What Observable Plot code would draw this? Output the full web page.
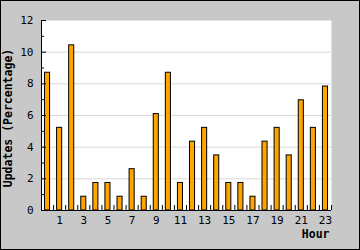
<!DOCTYPE html>
<html>
<head>
<meta charset="utf-8">
<script src="https://cdn.jsdelivr.net/npm/d3@7"></script>
<script src="https://cdn.jsdelivr.net/npm/@observablehq/plot@0.6"></script>
<style>
  html, body { margin: 0; padding: 0; background: #c8c8c8; }
  #chart svg { display: block; outline: 1px solid #000; outline-offset: -1px; }
</style>
</head>
<body>
<div id="chart"></div>
<script>
const hours = [0, 1, 2, 3, 4, 5, 6, 7, 8, 9, 10, 11, 12, 13, 14, 15, 16, 17, 18, 19, 20, 21, 22, 23];
const updates = [8.70, 5.22, 10.43, 0.87, 1.74, 1.74, 0.87, 2.61, 0.87, 6.09, 8.70, 1.74,
                 4.35, 5.22, 3.48, 1.74, 1.74, 0.87, 4.35, 5.22, 3.48, 6.96, 5.22, 7.83];
const xTickLabels = [1, 3, 5, 7, 9, 11, 13, 15, 17, 19, 21, 23];
const xBoundaries = [0.5, 1.5, 2.5, 3.5, 4.5, 5.5, 6.5, 7.5, 8.5, 9.5, 10.5, 11.5,
                     12.5, 13.5, 14.5, 15.5, 16.5, 17.5, 18.5, 19.5, 20.5, 21.5, 22.5, 23.5];
const yTicks = [0, 2, 4, 6, 8, 10, 12];
const yMinorTicks = [1, 3, 5, 7, 9, 11];
const yGrid = [2, 4, 6, 8, 10];
const xTitle = "Hour";
const yTitle = "Updates (Percentage)";

const data = hours.map((h, i) => ({hour: h, value: updates[i]}));
const halfBar = 0.21;

const chart = Plot.plot({
  width: 360,
  height: 250,
  marginLeft: 41,
  marginRight: 29,
  marginTop: 20,
  marginBottom: 40,
  style: {background: "#c8c8c8", fontFamily: "'DejaVu Sans Mono', monospace", fontSize: "11px", color: "#000"},
  x: {type: "linear", domain: [-0.5, 23.5]},
  y: {domain: [0, 12]},
  marks: [
    Plot.frame({fill: "white", stroke: null}),
    Plot.gridY(yGrid, {stroke: "#d9d9d9", strokeOpacity: 1}),
    Plot.rectY(data, {x1: d => d.hour - halfBar, x2: d => d.hour + halfBar, y1: 0, y2: "value",
                      fill: "#ffa500", stroke: "#000", strokeWidth: 1}),
    Plot.ruleX([-0.5], {stroke: "#000"}),
    Plot.ruleY([0], {stroke: "#000"}),
    Plot.axisY({ticks: yTicks, tickSize: 5, dx: 5, text: null, label: null}),
    Plot.axisY({ticks: yMinorTicks, tickSize: 3, dx: 3, text: null, label: null}),
    Plot.axisY({ticks: yTicks, tickSize: 0, tickPadding: 8, tickFormat: d => d, label: null}),
    Plot.axisX({ticks: xBoundaries, tickSize: 5, dy: -5, text: null, label: null}),
    Plot.axisX({ticks: xTickLabels, tickSize: 0, tickPadding: 6, tickFormat: d => d, label: null}),
    Plot.text([yTitle], {frameAnchor: "left", textAnchor: "middle", rotate: -90, dx: -33, dy: 2.5,
                         fontWeight: "bold", fontSize: 11.5}),
    Plot.text([xTitle], {frameAnchor: "bottom-right", textAnchor: "end", dx: -2, dy: 27.5,
                         fontWeight: "bold", fontSize: 11.5})
  ]
});
document.getElementById("chart").appendChild(chart);
</script>
</body>
</html>
